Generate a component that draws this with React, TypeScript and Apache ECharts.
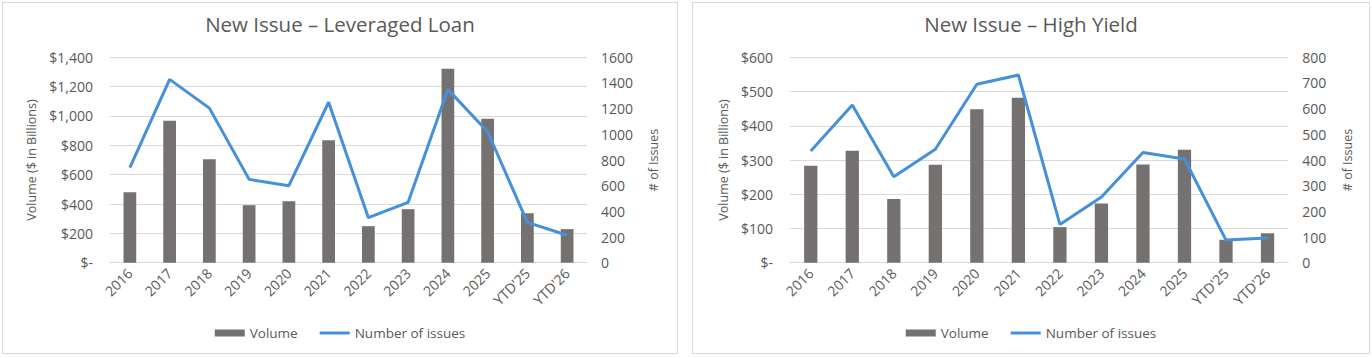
import React, { useEffect, useRef } from "react";
import * as echarts from "echarts";

const categories = ["2016", "2017", "2018", "2019", "2020", "2021", "2022", "2023", "2024", "2025", "YTD'25", "YTD'26"];

const loanVolume = [480, 968, 705, 392, 419, 834, 249, 365, 1322, 982, 337, 229];
const loanIssues = [740, 1428, 1204, 649, 600, 1250, 351, 470, 1350, 1020, 314, 214];

const hyVolume = [283, 327, 186, 286, 448, 482, 104, 173, 287, 330, 67, 86];
const hyIssues = [435, 614, 335, 442, 695, 731, 149, 256, 429, 404, 88, 96];

const loanTitle = "New Issue \u2013 Leveraged Loan";
const hyTitle = "New Issue \u2013 High Yield";
const leftAxisName = "Volume ($ in Billions)";
const rightAxisName = "# of Issues";
const barName = "Volume";
const lineName = "Number of issues";

const TEXT = "#595959";
const FONT = "Open Sans";
const BAR = "#767171";
const LINE = "#4590DA";
const GRID = "#d9d9d9";

type Cfg = {
  title: string;
  volume: number[];
  issues: number[];
  volMax: number;
  volInterval: number;
  issMax: number;
  issInterval: number;
  width: number;
  gridLeft: number;
  gridRight: number;
  leftNameGap: number;
  rightNameGap: number;
};

function fmtMoney(v: number) {
  if (v === 0) return "$-";
  return "$" + v.toLocaleString("en-US");
}

function buildOption(c: Cfg) {
  return {
    animation: false,
    backgroundColor: "#ffffff",
    textStyle: { fontFamily: FONT, color: TEXT },
    graphic: [
      {
        type: "rect",
        shape: { x: 2.5, y: 2.5, width: c.width - 5, height: 351 },
        style: { fill: "none", stroke: GRID, lineWidth: 1 },
        silent: true,
        z: -10,
      },
    ],
    title: {
      text: c.title,
      left: "center",
      top: 8,
      textStyle: { fontFamily: FONT, fontSize: 20.5, fontWeight: "normal", color: TEXT },
    },
    legend: {
      top: 321,
      left: "center",
      itemWidth: 30,
      itemHeight: 7,
      itemGap: 22,
      textStyle: { fontFamily: FONT, fontSize: 13.5, color: TEXT },
      data: [
        { name: barName, icon: "rect" },
        { name: lineName, icon: "path://M0,0H30V3H0Z" },
      ],
    },
    grid: { left: c.gridLeft, right: c.gridRight, top: 57.3, bottom: 95.3, containLabel: false },
    xAxis: {
      type: "category",
      data: categories,
      axisLine: { show: true, lineStyle: { color: GRID, width: 1 } },
      axisTick: { show: false },
      axisLabel: { rotate: 45, margin: 8, fontFamily: FONT, fontSize: 14, color: TEXT, interval: 0 },
    },
    yAxis: [
      {
        type: "value",
        min: 0,
        max: c.volMax,
        interval: c.volInterval,
        name: leftAxisName,
        nameLocation: "middle",
        nameRotate: 90,
        nameGap: c.leftNameGap,
        nameTextStyle: { fontFamily: FONT, fontSize: 12.5, color: TEXT },
        axisLine: { show: false },
        axisTick: { show: false },
        axisLabel: { margin: 17, fontFamily: FONT, fontSize: 14, color: TEXT, formatter: fmtMoney },
        splitLine: { show: true, lineStyle: { color: GRID, width: 1 } },
      },
      {
        type: "value",
        min: 0,
        max: c.issMax,
        interval: c.issInterval,
        name: rightAxisName,
        nameLocation: "middle",
        nameRotate: 90,
        nameGap: c.rightNameGap,
        nameTextStyle: { fontFamily: FONT, fontSize: 12.5, color: TEXT },
        axisLine: { show: false },
        axisTick: { show: false },
        axisLabel: { margin: 14, fontFamily: FONT, fontSize: 14, color: TEXT, formatter: (v: number) => String(v) },
        splitLine: { show: false },
      },
    ],
    series: [
      {
        name: barName,
        type: "bar",
        data: c.volume,
        yAxisIndex: 0,
        barWidth: "32%",
        itemStyle: { color: BAR },
      },
      {
        name: lineName,
        type: "line",
        data: c.issues,
        yAxisIndex: 1,
        symbol: "none",
        lineStyle: { color: LINE, width: 3 },
        itemStyle: { color: LINE },
      },
    ],
  };
}

function Chart({ cfg, left }: { cfg: Cfg; left: number }) {
  const ref = useRef<HTMLDivElement>(null);
  useEffect(() => {
    if (!ref.current) return;
    const chart = echarts.init(ref.current, undefined, { renderer: "svg" });
    chart.setOption(buildOption(cfg));
    return () => chart.dispose();
  }, []);
  return (
    <div
      ref={ref}
      style={{ position: "absolute", left, top: 0, width: cfg.width, height: 358 }}
    />
  );
}

const loanCfg: Cfg = {
  title: loanTitle,
  volume: loanVolume,
  issues: loanIssues,
  volMax: 1400,
  volInterval: 200,
  issMax: 1600,
  issInterval: 200,
  width: 680,
  gridLeft: 110,
  gridRight: 93,
  leftNameGap: 70,
  rightNameGap: 60,
};

const hyCfg: Cfg = {
  title: hyTitle,
  volume: hyVolume,
  issues: hyIssues,
  volMax: 600,
  volInterval: 100,
  issMax: 800,
  issInterval: 100,
  width: 682,
  gridLeft: 100,
  gridRight: 83.7,
  leftNameGap: 58,
  rightNameGap: 53,
};

export default function App() {
  return (
    <div style={{ position: "fixed", left: 0, top: 0, width: 1372, height: 358, background: "#ffffff" }}>
      <Chart cfg={loanCfg} left={0} />
      <Chart cfg={hyCfg} left={690} />
    </div>
  );
}
